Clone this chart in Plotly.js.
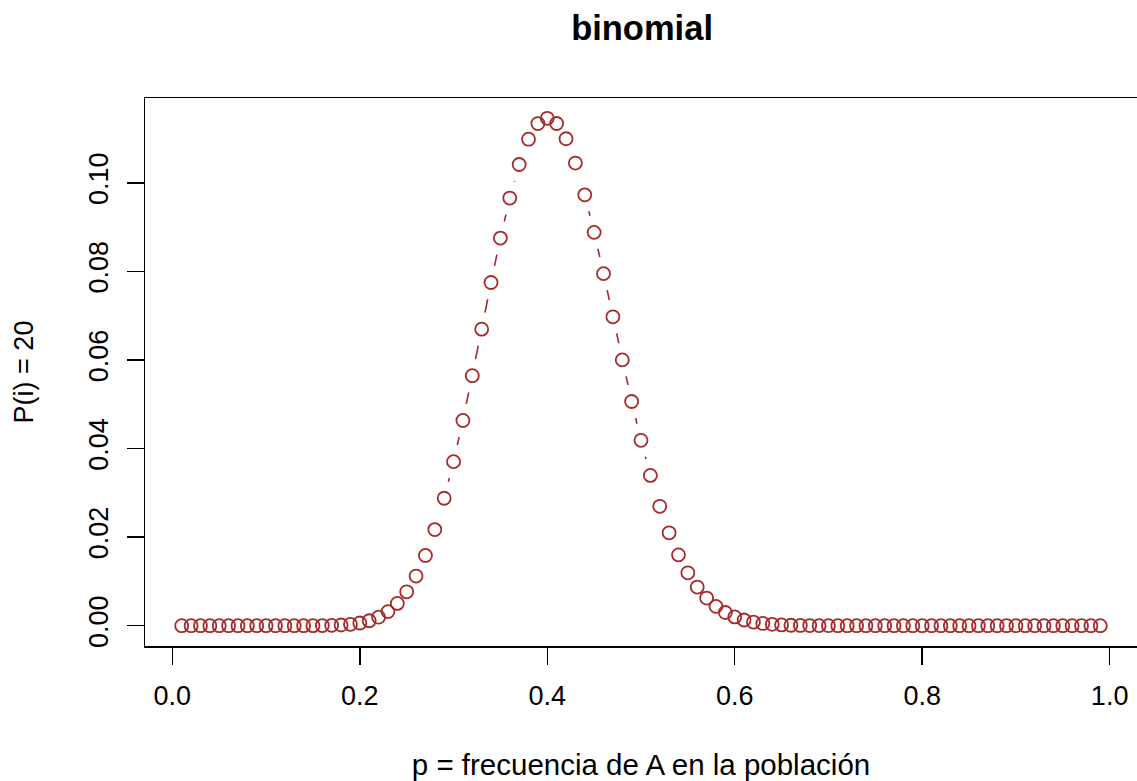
<!DOCTYPE html>
<html>
<head>
<meta charset="utf-8">
<script src="https://cdn.plot.ly/plotly-3.0.1.min.js"></script>
<style>html,body{margin:0;padding:0;background:#fff;}#chart{width:1137px;height:781px;}</style>
</head>
<body>
<div id="chart"></div>
<script>
const p = [0.01,0.02,0.03,0.04,0.05,0.06,0.07,0.08,0.09,0.10,
0.11,0.12,0.13,0.14,0.15,0.16,0.17,0.18,0.19,0.20,
0.21,0.22,0.23,0.24,0.25,0.26,0.27,0.28,0.29,0.30,
0.31,0.32,0.33,0.34,0.35,0.36,0.37,0.38,0.39,0.40,
0.41,0.42,0.43,0.44,0.45,0.46,0.47,0.48,0.49,0.50,
0.51,0.52,0.53,0.54,0.55,0.56,0.57,0.58,0.59,0.60,
0.61,0.62,0.63,0.64,0.65,0.66,0.67,0.68,0.69,0.70,
0.71,0.72,0.73,0.74,0.75,0.76,0.77,0.78,0.79,0.80,
0.81,0.82,0.83,0.84,0.85,0.86,0.87,0.88,0.89,0.90,
0.91,0.92,0.93,0.94,0.95,0.96,0.97,0.98,0.99];
const prob = [0,0,0,0,0,0,0,0,0,0,
0,0,0.000001,0.000004,0.000012,0.000031,0.000072,0.000156,0.000318,0.000612,
0.001113,0.001926,0.003182,0.005036,0.007656,0.011214,0.015858,0.021695,0.028776,0.037039,
0.046338,0.056437,0.066948,0.077480,0.087506,0.096545,0.104120,0.109830,0.113360,0.114550,
0.113370,0.109930,0.104440,0.097270,0.088800,0.079480,0.069740,0.060010,0.050610,0.041860,
0.033930,0.026960,0.020970,0.015990,0.011940,0.008725,0.006236,0.004361,0.002979,0.001986,
0.001293,0.000822,0.000509,0.000306,0.000179,0.000102,0.000056,0.000030,0.000015,0.000007,
0.000003,0.000001,0,0,0,0,0,0,0,0,
0,0,0,0,0,0,0,0,0,0,
0,0,0,0,0,0,0,0,0];
const xTicks = [0.0,0.2,0.4,0.6,0.8,1.0];
const xTickText = ['0.0','0.2','0.4','0.6','0.8','1.0'];
const yTicks = [0.00,0.02,0.04,0.06,0.08,0.10];
const yTickText = ['0.00','0.02','0.04','0.06','0.08','0.10'];

const col = '#A52A2A';
const font = 'Liberation Sans, Arial, Helvetica, sans-serif';

const traces = [
  {x:p, y:prob, type:'scatter', mode:'lines', line:{color:col, width:1.6}, hoverinfo:'skip', showlegend:false},
  {x:p, y:prob, type:'scatter', mode:'markers', marker:{symbol:'circle', color:'#ffffff', size:34, line:{width:0}}, hoverinfo:'skip', showlegend:false},
  {x:p, y:prob, type:'scatter', mode:'markers', marker:{symbol:'circle-open', color:col, size:13, line:{color:col, width:1.8}}, showlegend:false}
];

const ymax = 0.11455;
const layout = {
  width:1137, height:781,
  paper_bgcolor:'#fff', plot_bgcolor:'#fff',
  margin:{l:145, r:0, t:98, b:135},
  font:{family:font, color:'#000'},
  title:{text:'<b>binomial</b>', font:{family:font, size:34.5, color:'#000'}, x:0.5647, xanchor:'center', y:0.964, yanchor:'middle'},
  xaxis:{
    range:[0.01-0.98*0.04, 0.99+0.98*0.04],
    tickmode:'array', tickvals:xTicks, ticktext:xTickText,
    ticks:'outside', ticklen:17, tickwidth:1.5, tickcolor:'#000',
    showline:true, mirror:true, linecolor:'#000', linewidth:1.5,
    showgrid:false, zeroline:false,
    tickfont:{family:font, size:27, color:'#000'},
    ticklabelstandoff:8,
    title:{text:'p = frecuencia de A en la población', font:{family:font, size:29.5, color:'#000'}, standoff:48},
    automargin:false
  },
  yaxis:{
    range:[-0.04*ymax, 1.04*ymax],
    tickmode:'array', tickvals:yTicks, ticktext:yTickText,
    ticks:'outside', ticklen:17, tickwidth:1.5, tickcolor:'#000',
    showline:true, mirror:true, linecolor:'#000', linewidth:1.5,
    showgrid:false, zeroline:false,
    tickangle:-90,
    tickfont:{family:font, size:27, color:'#000'},
    ticklabelstandoff:8,
    title:{text:'P(i) = 20', font:{family:font, size:27, color:'#000'}, standoff:42},
    automargin:false
  }
};
Plotly.newPlot('chart', traces, layout, {displayModeBar:false, staticPlot:true});
</script>
</body>
</html>
